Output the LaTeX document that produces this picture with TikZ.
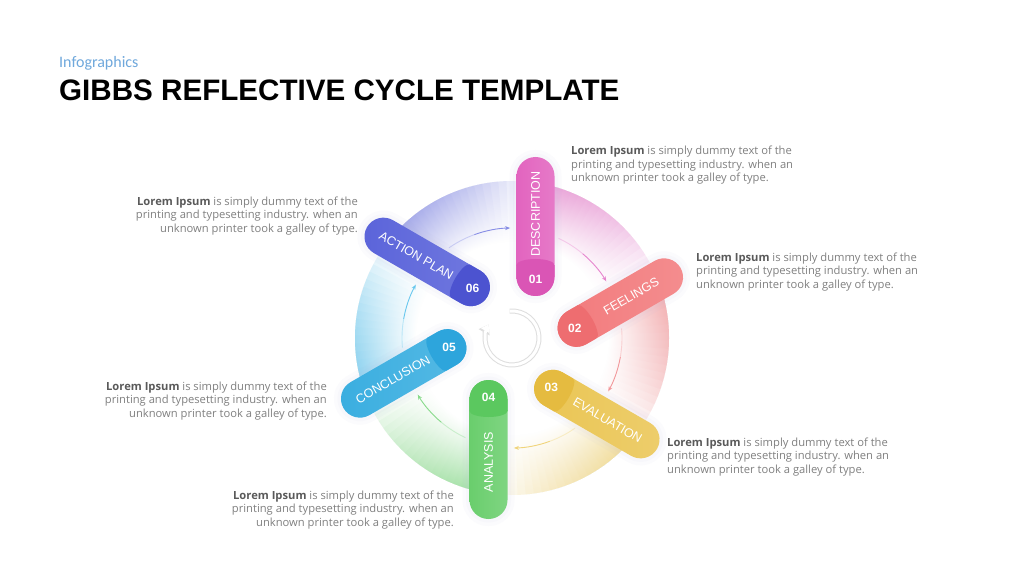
\documentclass[tikz,border=0pt]{standalone}
\usepackage{fontspec}
\setmainfont{Open Sans}
\newfontfamily\headfont{Liberation Sans}
\newfontfamily\kickerfont{Carlito}
\usetikzlibrary{arrows.meta,fadings,calc}

\definecolor{main0}{HTML}{E264BF}\definecolor{band0}{HTML}{DA55B5}\definecolor{ring0}{HTML}{E685CE}
\definecolor{main1}{HTML}{F27A7C}\definecolor{band1}{HTML}{EE6D70}\definecolor{ring1}{HTML}{F2979A}
\definecolor{main2}{HTML}{EAC553}\definecolor{band2}{HTML}{E5BB40}\definecolor{ring2}{HTML}{F0D47A}
\definecolor{main3}{HTML}{6ACE6D}\definecolor{band3}{HTML}{5BC85F}\definecolor{ring3}{HTML}{88DA8B}
\definecolor{main4}{HTML}{3AAEE0}\definecolor{band4}{HTML}{2DA5DC}\definecolor{ring4}{HTML}{68C7EE}
\definecolor{main5}{HTML}{5B64DA}\definecolor{band5}{HTML}{4C53D0}\definecolor{ring5}{HTML}{868CE5}
\definecolor{textgray}{HTML}{808080}
\definecolor{boldgray}{HTML}{5A5A5A}
\definecolor{kickerblue}{HTML}{6FA8DC}

\pgfdeclareradialshading{coreshade}{\pgfpointorigin}{color(0bp)=(white); color(12bp)=(white); color(21bp)=(black); color(50bp)=(black)}
\pgfdeclarefading{corefade}{\pgfuseshading{coreshade}}

\newcommand\pillshape{(61,-42.5) -- (162,-42.5) arc[start angle=-90, end angle=90, radius=19] -- (61,-4.5) arc[start angle=90, end angle=270, radius=19] -- cycle}

\begin{document}
\begin{tikzpicture}[
    x=1pt, y=1pt,
    blurb/.style={font=\fontsize{11.2}{13.6}\selectfont, text=textgray, inner sep=0pt},
    pilltext/.style={font=\headfont\fontsize{12.5}{12.5}\selectfont, text=white, inner sep=0pt},
    numtext/.style={font=\headfont\bfseries\fontsize{12}{12}\selectfont, text=white, inner sep=0pt},
    glow/.style={draw=black!45!blue!30, opacity=0.05},
    flow/.style={line width=0.9pt, -{Stealth[length=5pt, width=4pt]}}
]
    \useasboundingbox (0,0) rectangle (1024,576);
    \fill[white] (0,0) rectangle (1024,576);

    % --- Heading ---
    \node[font=\kickerfont\fontsize{16}{16}\selectfont, text=kickerblue, anchor=base west, inner sep=0pt] (sub) at (59,508) {Infographics};
    \node[font=\headfont\bfseries\fontsize{29.6}{29.6}\selectfont, anchor=base west, inner sep=0pt] (ttl) at (59,475) {GIBBS REFLECTIVE CYCLE TEMPLATE};

    % --- Colour ring behind the pills ---
    \foreach \k in {0,...,5} {
        \begin{scope}[shift={(512,238)}, rotate={90-60*\k}]
            \foreach \i [evaluate=\i as \e using -4-3*\i] in {1,...,20}
                \fill[ring\k, opacity=0.1] (-4:40) arc[start angle=-4, end angle=\e, radius=40]
                    -- (\e:157) arc[start angle=\e, end angle=-4, radius=157] -- cycle;
        \end{scope}
    }
    \fill[white, path fading=corefade] (512,238) circle (200);

    % --- Flow arrows between the pills ---
    \foreach \k in {0,...,5} {
        \begin{scope}[shift={(512,238)}, rotate={90-60*\k}]
            \coordinate (arr\k) at (-25:110);
            \coordinate (mid\k) at (-40:110);
            \draw[line width=0.9pt, white!55!ring\k] (arr\k) arc[start angle=-25, end angle=-40, radius=110];
            \draw[flow, ring\k] (mid\k) arc[start angle=-40, end angle=-59, radius=110];
        \end{scope}
    }

    % --- Centre cycle icon ---
    \coordinate (cyc) at ($(512,238)+(95:27)$);
    \draw[black!13, line width=5pt, -{Triangle[length=9pt, width=12pt]}] (cyc) arc[start angle=95, end angle=-210, radius=27];
    \draw[white, line width=3pt, -{Triangle[length=7pt, width=9pt]}] (cyc) arc[start angle=95, end angle=-210, radius=27];

    % --- Pills ---
    \foreach \k/\lbl/\num/\flip in {0/DESCRIPTION/01/0, 1/FEELINGS/02/0, 2/EVALUATION/03/0,
                                    3/ANALYSIS/04/180, 4/CONCLUSION/05/180, 5/ACTION PLAN/06/180} {
        \begin{scope}[shift={(512,238)}, rotate={90-60*\k}]
            \draw[glow, line width=14pt] \pillshape;
            \draw[glow, line width=7pt] \pillshape;
            \shade[left color=main\k, right color=main\k!86!white] \pillshape;
            \begin{scope}
                \clip \pillshape;
                \fill[band\k] (30,-50) rectangle (73,5);
                \fill[band\k] (73,-23.5) ellipse [x radius=6, y radius=19];
            \end{scope}
            \node[pilltext, transform shape, rotate=\flip] (lbl\k) at (124,-23.5) {\lbl};
            \node[numtext] (num\k) at (59,-23.5) {\num};
        \end{scope}
    }

    % --- Text blocks ---
    \node[blurb, anchor=north west, align=left] (txt1) at (571,430)
        {\textcolor{boldgray}{\textbf{Lorem Ipsum}} is simply dummy text of the\\printing and typesetting industry. when an\\unknown printer took a galley of type.};
    \node[blurb, anchor=north west, align=left] (txt2) at (696,323.5)
        {\textcolor{boldgray}{\textbf{Lorem Ipsum}} is simply dummy text of the\\printing and typesetting industry. when an\\unknown printer took a galley of type.};
    \node[blurb, anchor=north west, align=left] (txt3) at (667,138.5)
        {\textcolor{boldgray}{\textbf{Lorem Ipsum}} is simply dummy text of the\\printing and typesetting industry. when an\\unknown printer took a galley of type.};
    \node[blurb, anchor=north east, align=right] (txt4) at (454,85.5)
        {\textcolor{boldgray}{\textbf{Lorem Ipsum}} is simply dummy text of the\\printing and typesetting industry. when an\\unknown printer took a galley of type.};
    \node[blurb, anchor=north east, align=right] (txt5) at (327,194.5)
        {\textcolor{boldgray}{\textbf{Lorem Ipsum}} is simply dummy text of the\\printing and typesetting industry. when an\\unknown printer took a galley of type.};
    \node[blurb, anchor=north east, align=right] (txt6) at (358,379.5)
        {\textcolor{boldgray}{\textbf{Lorem Ipsum}} is simply dummy text of the\\printing and typesetting industry. when an\\unknown printer took a galley of type.};

\end{tikzpicture}
\end{document}
